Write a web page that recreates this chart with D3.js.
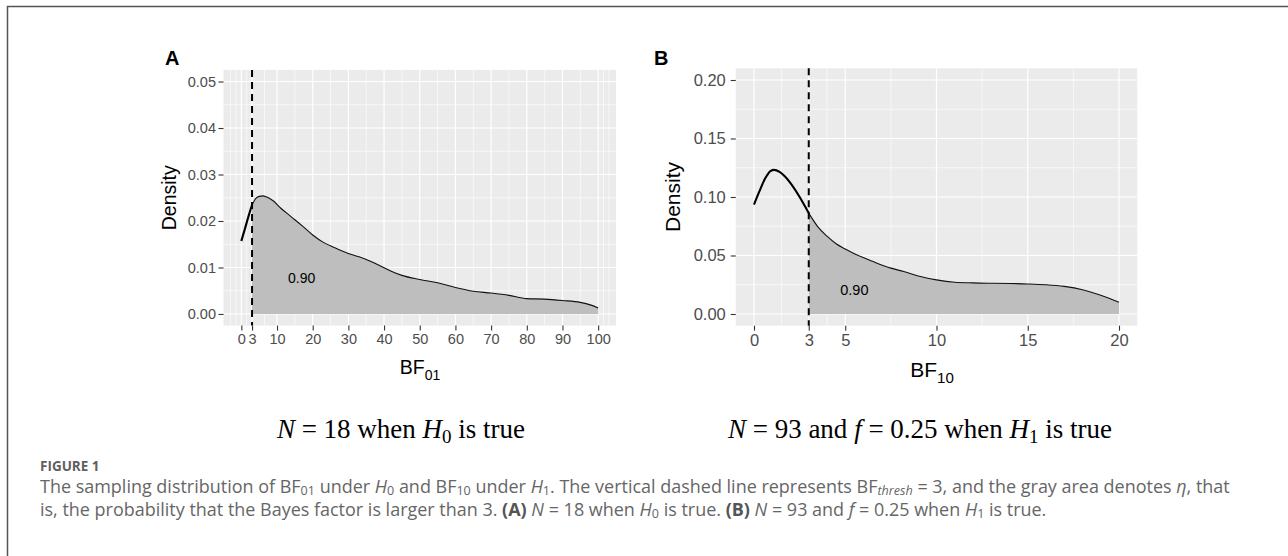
<!DOCTYPE html>
<html><head><meta charset="utf-8">
<script src="https://cdn.jsdelivr.net/npm/d3@7"></script>
<style>body{margin:0;background:#fff}svg{display:block}</style>
</head><body>
<svg id="c" width="1288" height="556"></svg>
<script>
// ---------- data ----------
// Panel A: sampling distribution of BF01 under H0 (N = 18)
const aX       = [0, 1, 2, 3, 4, 5, 6, 7, 9, 11, 14, 17, 20, 23, 26, 30, 33, 36, 39, 42, 45, 50, 55, 60, 65, 70, 75, 80, 85, 90, 95, 98, 100];
const aDensity = [0.0157, 0.0183, 0.0210, 0.0234, 0.0248, 0.0253, 0.0254, 0.0252, 0.0243, 0.0228, 0.0209, 0.0190, 0.0170, 0.0154, 0.0143, 0.0130, 0.0123, 0.0114, 0.0103, 0.0092, 0.0083, 0.0074, 0.0067, 0.0057, 0.0049, 0.0045, 0.0040, 0.0033, 0.0032, 0.0029, 0.0025, 0.0019, 0.0013];
const aXTicks  = [0, 3, 10, 20, 30, 40, 50, 60, 70, 80, 90, 100];
const aYTicks  = [0, 0.01, 0.02, 0.03, 0.04, 0.05];
const aThresh  = 3;
const aEta     = "0.90";
const aEtaPos  = [16.9, 0.0077];

// Panel B: sampling distribution of BF10 under H1 (N = 93, f = 0.25)
const bX       = [0, 0.3, 0.6, 0.9, 1.1, 1.4, 1.7, 2.0, 2.5, 3.0, 3.5, 4.0, 4.5, 5.0, 5.5, 6.5, 7.5, 8.2, 9.0, 10, 11, 12, 13, 14, 15, 16, 17, 18, 19, 20];
const bDensity = [0.0935, 0.1050, 0.1155, 0.1222, 0.1232, 0.1215, 0.1175, 0.1118, 0.1000, 0.0862, 0.0745, 0.0665, 0.0600, 0.0555, 0.0515, 0.0450, 0.0392, 0.0363, 0.0325, 0.0292, 0.0272, 0.0266, 0.0263, 0.0261, 0.0257, 0.0250, 0.0236, 0.0208, 0.0160, 0.0100];
const bXTicks  = [0, 3, 5, 10, 15, 20];
const bYTicks  = [0, 0.05, 0.10, 0.15, 0.20];
const bThresh  = 3;
const bEta     = "0.90";
const bEtaPos  = [5.5, 0.0206];

// ---------- drawing ----------
const svg = d3.select("#c");
svg.append("rect").attr("width",1288).attr("height",556).attr("fill","#fff");
svg.append("path").attr("d","M7.5,556 L7.5,6.5 L1288,6.5").attr("fill","none").attr("stroke","#555").attr("stroke-width",1.5);

const SANS = "'Liberation Sans', Arial, Helvetica, sans-serif";

function minorBreaks(b, lim){
  const bd = b[1]-b[0];
  const bb = b.slice();
  if (lim[0] < bb[0]) bb.unshift(bb[0]-bd);
  if (lim[1] > bb[bb.length-1]) bb.push(bb[bb.length-1]+bd);
  const out = bb.slice();
  for (let i=0;i<bb.length-1;i++) out.push((bb[i]+bb[i+1])/2);
  const eps = 1e-9;
  return out.filter(v => v>=lim[0]-eps && v<=lim[1]+eps && !b.some(m=>Math.abs(m-v)<eps));
}

function panel(cfg){
  const xs = cfg.xs, ys = cfg.ys;
  const span = xs[xs.length-1]-xs[0];
  const x = d3.scaleLinear().domain([xs[0]-span*0.05, xs[xs.length-1]+span*0.05]).range(cfg.xr);
  const yMax = cfg.yTicks[cfg.yTicks.length-1];
  const y = d3.scaleLinear().domain([-yMax*0.05, yMax*1.05]).range(cfg.yr);
  const g = svg.append("g");
  const [x0,x1] = cfg.xr, [y1,y0] = cfg.yr;
  g.append("rect").attr("x",x0).attr("y",y0).attr("width",x1-x0).attr("height",y1-y0).attr("fill","#EBEBEB");
  minorBreaks(cfg.xTicks, x.domain()).forEach(v=>{
    g.append("line").attr("x1",x(v)).attr("x2",x(v)).attr("y1",y0).attr("y2",y1).attr("stroke","#fff").attr("stroke-width",0.6);
  });
  minorBreaks(cfg.yTicks, y.domain()).forEach(v=>{
    g.append("line").attr("x1",x0).attr("x2",x1).attr("y1",y(v)).attr("y2",y(v)).attr("stroke","#fff").attr("stroke-width",0.6);
  });
  cfg.xTicks.forEach(v=>{
    g.append("line").attr("x1",x(v)).attr("x2",x(v)).attr("y1",y0).attr("y2",y1).attr("stroke","#fff").attr("stroke-width",1.2);
  });
  cfg.yTicks.forEach(v=>{
    g.append("line").attr("x1",x0).attr("x2",x1).attr("y1",y(v)).attr("y2",y(v)).attr("stroke","#fff").attr("stroke-width",1.2);
  });
  const pts = xs.map((v,i)=>[v, ys[i]]);
  const left = pts.filter(p=>p[0]<=cfg.thresh);
  const right = pts.filter(p=>p[0]>=cfg.thresh);
  const area = d3.area().x(p=>x(p[0])).y0(y(0)).y1(p=>y(p[1])).curve(d3.curveMonotoneX);
  const line = d3.line().x(p=>x(p[0])).y(p=>y(p[1])).curve(d3.curveMonotoneX);
  g.append("path").attr("d",area(right)).attr("fill","#BEBEBE");
  g.append("path").attr("d",line(right)).attr("fill","none").attr("stroke","#111").attr("stroke-width",1.1);
  g.append("path").attr("d",line(left)).attr("fill","none").attr("stroke","#000").attr("stroke-width",2.1);
  g.append("line").attr("x1",x(cfg.thresh)).attr("x2",x(cfg.thresh)).attr("y1",y0).attr("y2",y1)
    .attr("stroke","#000").attr("stroke-width",2).attr("stroke-dasharray","7,5");
  g.append("text").attr("x",x(cfg.etaPos[0])).attr("y",y(cfg.etaPos[1])).attr("dy","0.36em")
    .attr("text-anchor","middle").attr("font-family",SANS).attr("font-size",cfg.etaSize).attr("fill","#000").text(cfg.eta);
  const ya = g.append("g").attr("transform",`translate(${x0},0)`)
    .call(d3.axisLeft(y).tickValues(cfg.yTicks).tickSize(5).tickPadding(cfg.yPad).tickFormat(d=>d.toFixed(2)));
  const xa = g.append("g").attr("transform",`translate(0,${y1})`)
    .call(d3.axisBottom(x).tickValues(cfg.xTicks).tickSize(5).tickPadding(cfg.xPad).tickFormat(d=>String(d)));
  [ya,xa].forEach(a=>{
    a.attr("font-size",null).attr("font-family",null);
    a.select(".domain").remove();
    a.selectAll(".tick line").attr("stroke","#333").attr("stroke-width",1.1);
    a.selectAll(".tick text").attr("fill","#4D4D4D").attr("font-family",SANS).attr("font-size",cfg.tickSize);
  });
  const xt = g.append("text").attr("x",cfg.xTitleX).attr("y",cfg.xTitleY).attr("text-anchor","middle")
    .attr("font-family",SANS).attr("font-size",cfg.titleSize).attr("fill","#000");
  xt.append("tspan").text("BF");
  xt.append("tspan").attr("dy",cfg.titleSize*0.3).attr("font-size",cfg.titleSize*0.72).text(cfg.sub);
  g.append("text").attr("transform",`translate(${cfg.yTitleX},${(y0+y1)/2}) rotate(-90)`).attr("text-anchor","middle")
    .attr("font-family",SANS).attr("font-size",cfg.titleSize).attr("fill","#000").text("Density");
  g.append("text").attr("x",cfg.tag[0]).attr("y",cfg.tag[1]).attr("font-family",SANS).attr("font-weight","bold")
    .attr("font-size",20).attr("fill","#000").text(cfg.tagText);
}

panel({xs:aX, ys:aDensity, xTicks:aXTicks, yTicks:aYTicks, thresh:aThresh, eta:aEta, etaPos:aEtaPos,
  xr:[223.5,616], yr:[325.6,69.9], tickSize:14.5, titleSize:19.5, etaSize:14, xPad:3, yPad:2.5,
  xTitleX:420, xTitleY:374, sub:"01", yTitleX:176, tag:[165,65], tagText:"A"});
panel({xs:bX, ys:bDensity, xTicks:bXTicks, yTicks:bYTicks, thresh:bThresh, eta:bEta, etaPos:bEtaPos,
  xr:[735.75,1137.25], yr:[325.7,68.3], tickSize:16.5, titleSize:21, etaSize:14.5, xPad:3.5, yPad:5,
  xTitleX:932, xTitleY:377, sub:"10", yTitleX:680, tag:[654,65], tagText:"B"});

// subtitles (serif)
function serifLine(cx, yb, parts){
  const t = svg.append("text").attr("x",cx).attr("y",yb).attr("text-anchor","middle")
    .attr("font-family","'Liberation Serif','Times New Roman',serif").attr("font-size",27).attr("fill","#000");
  parts.forEach(p=>{
    const s = t.append("tspan").text(p[0]);
    if (p[1]==="i") s.attr("font-style","italic");
    if (p[1]==="sub") s.attr("font-size",19).attr("dy",5);
    if (p[1]==="up") s.attr("dy",-5);
  });
}
serifLine(401, 438, [["N","i"],[" = 18 when "],["H","i"],["0","sub"],[" is true","up"]]);
serifLine(920, 438, [["N","i"],[" = 93 and "],["f","i"],[" = 0.25 when "],["H","i"],["1","sub"],[" is true","up"]]);

// figure caption
const CAP = "'Open Sans', Lato, sans-serif";
svg.append("text").attr("x",40).attr("y",471).attr("font-family",CAP).attr("font-weight","bold")
  .attr("font-size",13.5).attr("fill","#5f5f5f").text("FIGURE 1");
function capLine(yb, parts, size){
  const t = svg.append("text").attr("x",40).attr("y",yb).attr("font-family",CAP).attr("font-size",size).attr("fill","#666");
  let shifted = false;
  parts.forEach(p=>{
    const s = t.append("tspan").text(p[0]);
    const k = p[1]||"";
    if (k.includes("i")) s.attr("font-style","italic");
    if (k.includes("b")) s.attr("font-weight","bold").attr("fill","#555");
    if (k.includes("s")) { s.attr("font-size",size*0.7).attr("dy",shifted?0:size*0.12); shifted=true; }
    else if (shifted) { s.attr("dy",-size*0.12); shifted=false; }
  });
  return t;
}
const line1Parts = [["The sampling distribution of BF"],["01","s"],[" under "],["H","i"],["0","s"],[" and BF"],["10","s"],[" under "],["H","i"],["1","s"],
  [". The vertical dashed line represents BF"],["thresh","si"],[" = 3, and the gray area denotes "],["η","i"],[", that"]];
const line2Parts = [["is, the probability that the Bayes factor is larger than 3. "],["(A)","b"],[" "],["N","i"],[" = 18 when "],["H","i"],["0","s"],[" is true. "],
  ["(B)","b"],[" "],["N","i"],[" = 93 and "],["f","i"],[" = 0.25 when "],["H","i"],["1","s"],[" is true."]];
// fit caption font so the first line spans the same width as in the figure
let capSize = 15;
const probe = capLine(-100, line1Parts, capSize);
const w = probe.node().getComputedTextLength();
probe.remove();
capSize = capSize * 1190 / w;
capLine(493, line1Parts, capSize);
capLine(516, line2Parts, capSize);
</script>
</body></html>
